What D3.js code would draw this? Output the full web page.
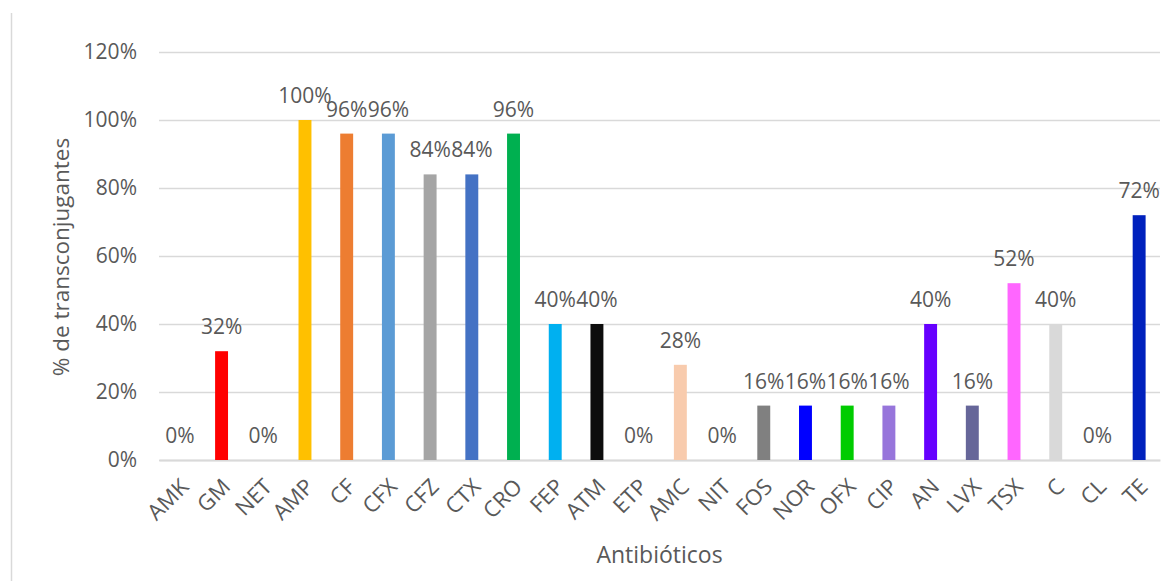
<!DOCTYPE html>
<html>
<head>
<meta charset="utf-8">
<script src="https://cdn.jsdelivr.net/npm/d3@7"></script>
<style>
  body { margin: 0; background: #fff; }
  text { font-family: "Open Sans", sans-serif; fill: #595959; }
</style>
</head>
<body>
<div id="chart"></div>
<script>
// antibiotics and % of transconjugants
const antibiotics = ['AMK', 'GM', 'NET', 'AMP', 'CF', 'CFX', 'CFZ', 'CTX', 'CRO', 'FEP', 'ATM', 'ETP',
  'AMC', 'NIT', 'FOS', 'NOR', 'OFX', 'CIP', 'AN', 'LVX', 'TSX', 'C', 'CL', 'TE'];
const percents = [0, 0.32, 0, 1.00, 0.96, 0.96, 0.84, 0.84, 0.96, 0.40, 0.40, 0,
  0.28, 0, 0.16, 0.16, 0.16, 0.16, 0.40, 0.16, 0.52, 0.40, 0, 0.72];
const barColors = ['#a5a5a5', '#ff0000', '#a5a5a5', '#ffc000', '#ed7d31', '#5b9bd5', '#a5a5a5', '#4472c4',
  '#00b050', '#00b0f0', '#0d0d0d', '#a5a5a5', '#f8cbad', '#a5a5a5', '#808080', '#0000ff', '#00cc00',
  '#9775db', '#6600ff', '#666699', '#ff66ff', '#d9d9d9', '#a5a5a5', '#0021bd'];
const yTicks = [0, 0.2, 0.4, 0.6, 0.8, 1.0, 1.2];

const width = 1176;
const height = 581;
const margin = { top: 52, right: 16, bottom: 121, left: 159 };
const innerW = width - margin.left - margin.right;
const innerH = height - margin.top - margin.bottom;

const svg = d3.select('#chart')
  .append('svg')
  .attr('width', width)
  .attr('height', height);

// thin frame line on the left edge
svg.append('line')
  .attr('x1', 11.5).attr('x2', 11.5)
  .attr('y1', 13).attr('y2', height)
  .attr('stroke', '#d9d9d9')
  .attr('stroke-width', 1.5);

const g = svg.append('g')
  .attr('transform', `translate(${margin.left}, ${margin.top})`);

const x = d3.scaleBand()
  .domain(antibiotics)
  .range([0, innerW])
  .paddingInner(0.69)
  .paddingOuter(0.345);

const y = d3.scaleLinear()
  .domain([0, 1.2])
  .range([innerH, 0]);

// gridlines + y labels
const yAxis = g.append('g')
  .call(d3.axisLeft(y)
    .tickValues(yTicks)
    .tickFormat(d3.format('.0%'))
    .tickSize(-innerW)
    .tickPadding(22));
yAxis.select('.domain').remove();
yAxis.selectAll('.tick line')
  .attr('stroke', '#d9d9d9')
  .attr('stroke-width', 1.5);
yAxis.selectAll('.tick text')
  .attr('font-size', 21)
  .attr('font-family', '"Open Sans", sans-serif')
  .attr('fill', '#595959');

// x axis
const xAxis = g.append('g')
  .attr('transform', `translate(0, ${innerH})`)
  .call(d3.axisBottom(x).tickSize(0));
xAxis.select('.domain')
  .attr('stroke', '#d9d9d9')
  .attr('stroke-width', 2);
xAxis.selectAll('.tick text')
  .attr('font-size', 22)
  .attr('font-family', '"Open Sans", sans-serif')
  .attr('fill', '#595959')
  .attr('text-anchor', 'end')
  .attr('dy', 0)
  .attr('transform', 'translate(8, 26) rotate(-45)');

// bars
g.selectAll('.bar')
  .data(antibiotics)
  .enter()
  .append('rect')
  .attr('class', 'bar')
  .attr('x', (d) => x(d))
  .attr('width', x.bandwidth())
  .attr('y', (d, i) => y(percents[i]))
  .attr('height', (d, i) => innerH - y(percents[i]))
  .attr('fill', (d, i) => barColors[i]);

// value labels
g.selectAll('.label')
  .data(antibiotics)
  .enter()
  .append('text')
  .attr('class', 'label')
  .attr('x', (d) => x(d) + x.bandwidth() / 2)
  .attr('y', (d, i) => y(percents[i]) - 17)
  .attr('text-anchor', 'middle')
  .attr('font-size', 21)
  .text((d, i) => d3.format('.0%')(percents[i]));

// axis titles
svg.append('text')
  .attr('transform', `translate(69, ${margin.top + innerH / 2 + 1}) rotate(-90)`)
  .attr('text-anchor', 'middle')
  .attr('font-size', 22.5)
  .text('% de transconjugantes');

svg.append('text')
  .attr('x', margin.left + innerW / 2)
  .attr('y', 563)
  .attr('text-anchor', 'middle')
  .attr('font-size', 23)
  .text('Antibióticos');
</script>
</body>
</html>
